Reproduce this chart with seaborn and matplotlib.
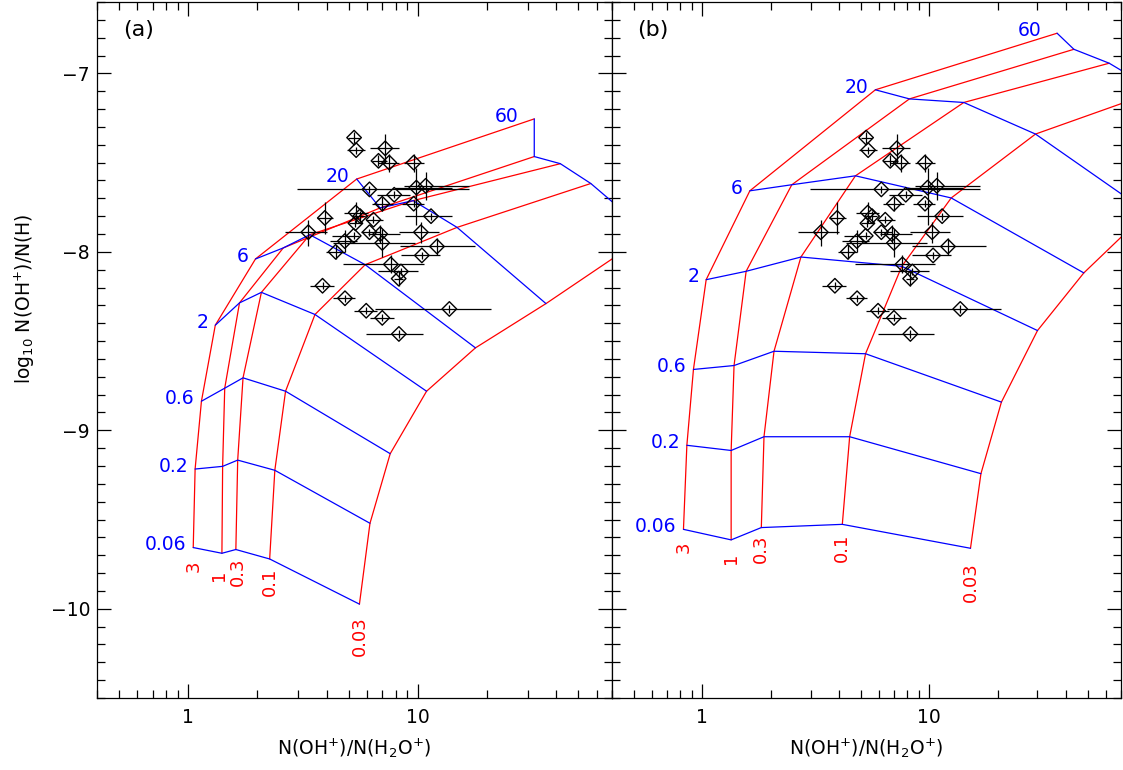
import numpy as np
import pandas as pd
import seaborn as sns
import matplotlib.pyplot as plt
from matplotlib.ticker import LogLocator, MultipleLocator, NullFormatter

# grid labels: red lines (left to right at the bottom), blue lines (bottom to top)
red_labels = ["3", "1", "0.3", "0.1", "0.03"]
blue_labels = ["0.06", "0.2", "0.6", "2", "6", "20", "60"]

# model grid nodes, rows follow red_labels, columns follow blue_labels
grid_a_x = [
    [1.05, 1.07, 1.14, 1.31, 1.96, 5.41, 32.1],
    [1.40, 1.41, 1.44, 1.67, 2.59, 6.84, 32.1],
    [1.61, 1.64, 1.73, 2.08, 3.38, 9.53, 41.7],
    [2.26, 2.38, 2.65, 3.56, 5.89, 14.8, 56.6],
    [5.56, 6.18, 7.57, 10.9, 17.8, 36.1, 102.0],
]
grid_a_y = [
    [-9.657, -9.217, -8.837, -8.411, -8.040, -7.592, -7.255],
    [-9.689, -9.202, -8.764, -8.286, -7.978, -7.754, -7.466],
    [-9.668, -9.167, -8.706, -8.227, -7.904, -7.713, -7.506],
    [-9.721, -9.224, -8.781, -8.351, -8.072, -7.863, -7.617],
    [-9.974, -9.521, -9.131, -8.781, -8.538, -8.290, -7.898],
]
grid_b_x = [
    [0.826, 0.855, 0.914, 1.04, 1.62, 5.79, 36.6],
    [1.34, 1.34, 1.38, 1.56, 2.48, 8.18, 43.4],
    [1.82, 1.87, 2.07, 2.72, 4.73, 14.2, 62.1],
    [4.14, 4.46, 5.24, 7.57, 12.5, 29.4, 100.0],
    [15.2, 16.9, 20.8, 30.0, 48.0, 91.4, 250.0],
]
grid_b_y = [
    [-9.555, -9.084, -8.659, -8.156, -7.658, -7.092, -6.775],
    [-9.614, -9.113, -8.637, -8.109, -7.624, -7.143, -6.865],
    [-9.545, -9.036, -8.557, -8.029, -7.574, -7.163, -6.943],
    [-9.527, -9.036, -8.571, -8.081, -7.698, -7.340, -7.100],
    [-9.661, -9.243, -8.842, -8.441, -8.118, -7.777, -7.300],
]

# observed sightlines: N(OH+)/N(H2O+) and log10 N(OH+)/N(H) with ranges
obs_x = [5.27, 5.38, 7.20, 6.73, 7.50, 9.58, 9.84, 10.8, 6.15, 7.88, 6.99, 9.58, 3.93,
         5.36, 5.60, 6.40, 5.34, 11.4, 3.33, 6.15, 5.25, 6.85, 10.3, 4.80, 6.99, 4.38,
         12.1, 10.4, 7.62, 8.43, 8.24, 3.84, 4.81, 5.95, 13.7, 6.99, 8.26]
obs_y = [-7.36, -7.43, -7.42, -7.49, -7.50, -7.50, -7.64, -7.63, -7.65, -7.68, -7.73,
         -7.73, -7.81, -7.78, -7.80, -7.82, -7.84, -7.80, -7.89, -7.89, -7.91, -7.90,
         -7.89, -7.94, -7.95, -8.00, -7.97, -8.02, -8.07, -8.11, -8.15, -8.19, -8.26,
         -8.33, -8.32, -8.37, -8.46]
obs_x_lo = [4.98, 4.89, 6.19, 6.28, 6.73, 8.66, 7.96, 8.66, 2.98, 6.62, 6.28, 8.50, 3.62,
            4.74, 5.30, 5.91, 5.00, 8.81, 2.63, 5.66, 4.21, 6.07, 8.24, 4.13, 4.28, 3.98,
            8.38, 8.43, 4.71, 6.73, 7.90, 3.38, 4.28, 5.27, 6.51, 6.20, 5.93]
obs_x_hi = [5.60, 5.89, 8.24, 7.32, 8.24, 10.6, 14.1, 16.7, 16.7, 9.26, 7.75, 10.6, 4.28,
            6.03, 5.90, 7.07, 5.70, 14.1, 4.00, 6.84, 5.51, 8.38, 12.3, 5.43, 9.74, 4.81,
            17.8, 12.5, 10.6, 10.0, 8.60, 4.31, 5.31, 6.62, 20.7, 7.90, 10.5]
obs_y_lo = [-7.39, -7.45, -7.50, -7.52, -7.55, -7.55, -7.85, -7.71, -7.67, -7.70, -7.77,
            -7.75, -7.90, -7.84, -7.83, -7.84, -7.86, -7.82, -7.97, -7.91, -7.93, -7.95,
            -7.95, -8.00, -8.03, -8.04, -8.02, -8.04, -8.12, -8.13, -8.19, -8.21, -8.28,
            -8.35, -8.34, -8.39, -8.48]
obs_y_hi = [-7.33, -7.41, -7.34, -7.46, -7.45, -7.45, -7.53, -7.55, -7.63, -7.66, -7.69,
            -7.71, -7.72, -7.72, -7.77, -7.80, -7.82, -7.78, -7.82, -7.87, -7.89, -7.85,
            -7.83, -7.88, -7.87, -7.96, -7.92, -8.00, -8.02, -8.09, -8.11, -8.17, -8.24,
            -8.31, -8.30, -8.35, -8.44]


def grid_frame(gx, gy):
    rows = []
    for i, r in enumerate(red_labels):
        for j, b in enumerate(blue_labels):
            rows.append({"red": r, "blue": b, "i": i, "j": j, "x": gx[i][j], "y": gy[i][j]})
    return pd.DataFrame(rows)


obs = pd.DataFrame({"x": obs_x, "y": obs_y, "xlo": obs_x_lo, "xhi": obs_x_hi,
                    "ylo": obs_y_lo, "yhi": obs_y_hi})

sns.set_theme(style="ticks")
plt.rcParams["font.family"] = ["DejaVu Sans"]
plt.rcParams["mathtext.default"] = "regular"
plt.rcParams["text.color"] = "black"
plt.rcParams["axes.labelcolor"] = "black"

fig = plt.figure(figsize=(11.23, 7.70), dpi=100)
ax_a = fig.add_axes([97 / 1123, 72 / 770, 515 / 1123, 696 / 770])
ax_b = fig.add_axes([612 / 1123, 72 / 770, 509 / 1123, 696 / 770])

# label offsets in points
blue_dx = [-5, -5, -5, -5, -5, -5, -11]
red_off = {
    "(a)": [(0, -9), (-2, -12), (1.5, -5.5), (0, -6), (0, -9)],
    "(b)": [(0, -9), (0, -9), (0, -5), (0, -7), (0, -10)],
}

for ax, gx, gy, tag in [(ax_a, grid_a_x, grid_a_y, "(a)"), (ax_b, grid_b_x, grid_b_y, "(b)")]:
    ax.set_xscale("log")
    g = grid_frame(gx, gy)
    sns.lineplot(data=g.sort_values(["i", "j"]), x="x", y="y", units="red", estimator=None,
                 sort=False, color="#ff0000", lw=0.9, ax=ax)
    sns.lineplot(data=g.sort_values(["j", "i"]), x="x", y="y", units="blue", estimator=None,
                 sort=False, color="#0000ff", lw=0.9, ax=ax)

    ax.errorbar(obs["x"], obs["y"],
                xerr=[obs["x"] - obs["xlo"], obs["xhi"] - obs["x"]],
                yerr=[obs["y"] - obs["ylo"], obs["yhi"] - obs["y"]],
                fmt="none", ecolor="black", elinewidth=0.9, capsize=0, zorder=3)
    sns.scatterplot(data=obs, x="x", y="y", marker="D", s=55, facecolor="none",
                    edgecolor="black", linewidth=1.0, zorder=4, ax=ax)

    for j, lab in enumerate(blue_labels):
        ax.annotate(lab, (gx[0][j], gy[0][j]), xytext=(blue_dx[j], 2), textcoords="offset points",
                    ha="right", va="center", color="#0000ff", fontsize=13.5, annotation_clip=False)
    for i, lab in enumerate(red_labels):
        ax.annotate(lab, (gx[i][0], gy[i][0]), xytext=red_off[tag][i], textcoords="offset points",
                    ha="center", va="top", rotation=90, color="#ff0000", fontsize=13)

    ax.text(0.081, 0.96, tag, transform=ax.transAxes, ha="center", va="center", fontsize=16)

    ax.set_xlim(0.4, 70)
    ax.set_ylim(-10.5, -6.6)
    ax.set_xticks([1, 10], ["1", "10"])
    ax.xaxis.set_minor_locator(LogLocator(base=10, subs=np.arange(2, 10)))
    ax.xaxis.set_minor_formatter(NullFormatter())
    ax.yaxis.set_major_locator(MultipleLocator(1))
    ax.yaxis.set_minor_locator(MultipleLocator(0.1))
    ax.tick_params(which="both", direction="in", top=True, right=True, width=0.9, colors="black")
    ax.tick_params(which="major", length=10, labelsize=13.5)
    ax.tick_params(which="minor", length=5.5)
    ax.tick_params(axis="x", pad=7)
    ax.tick_params(axis="y", pad=5)
    for s in ax.spines.values():
        s.set_linewidth(0.9)
        s.set_color("black")
    ax.set_ylabel("")
    ax.set_xlabel(r"N(OH$^{+}$)/N(H$_{2}$O$^{+}$)", fontsize=13.5, color="black")
    ax.xaxis.set_label_coords(0.5, -0.055)

ax_a.set_yticks([-7, -8, -9, -10], ["\u22127", "\u22128", "\u22129", "\u221210"])
ax_b.tick_params(labelleft=False)

fig.text(0.022, 0.612, r"log$_{10}$ N(OH$^{+}$)/N(H)", rotation=90, ha="center", va="center",
         fontsize=13.5, color="black")

plt.savefig("out.png", dpi=100)
